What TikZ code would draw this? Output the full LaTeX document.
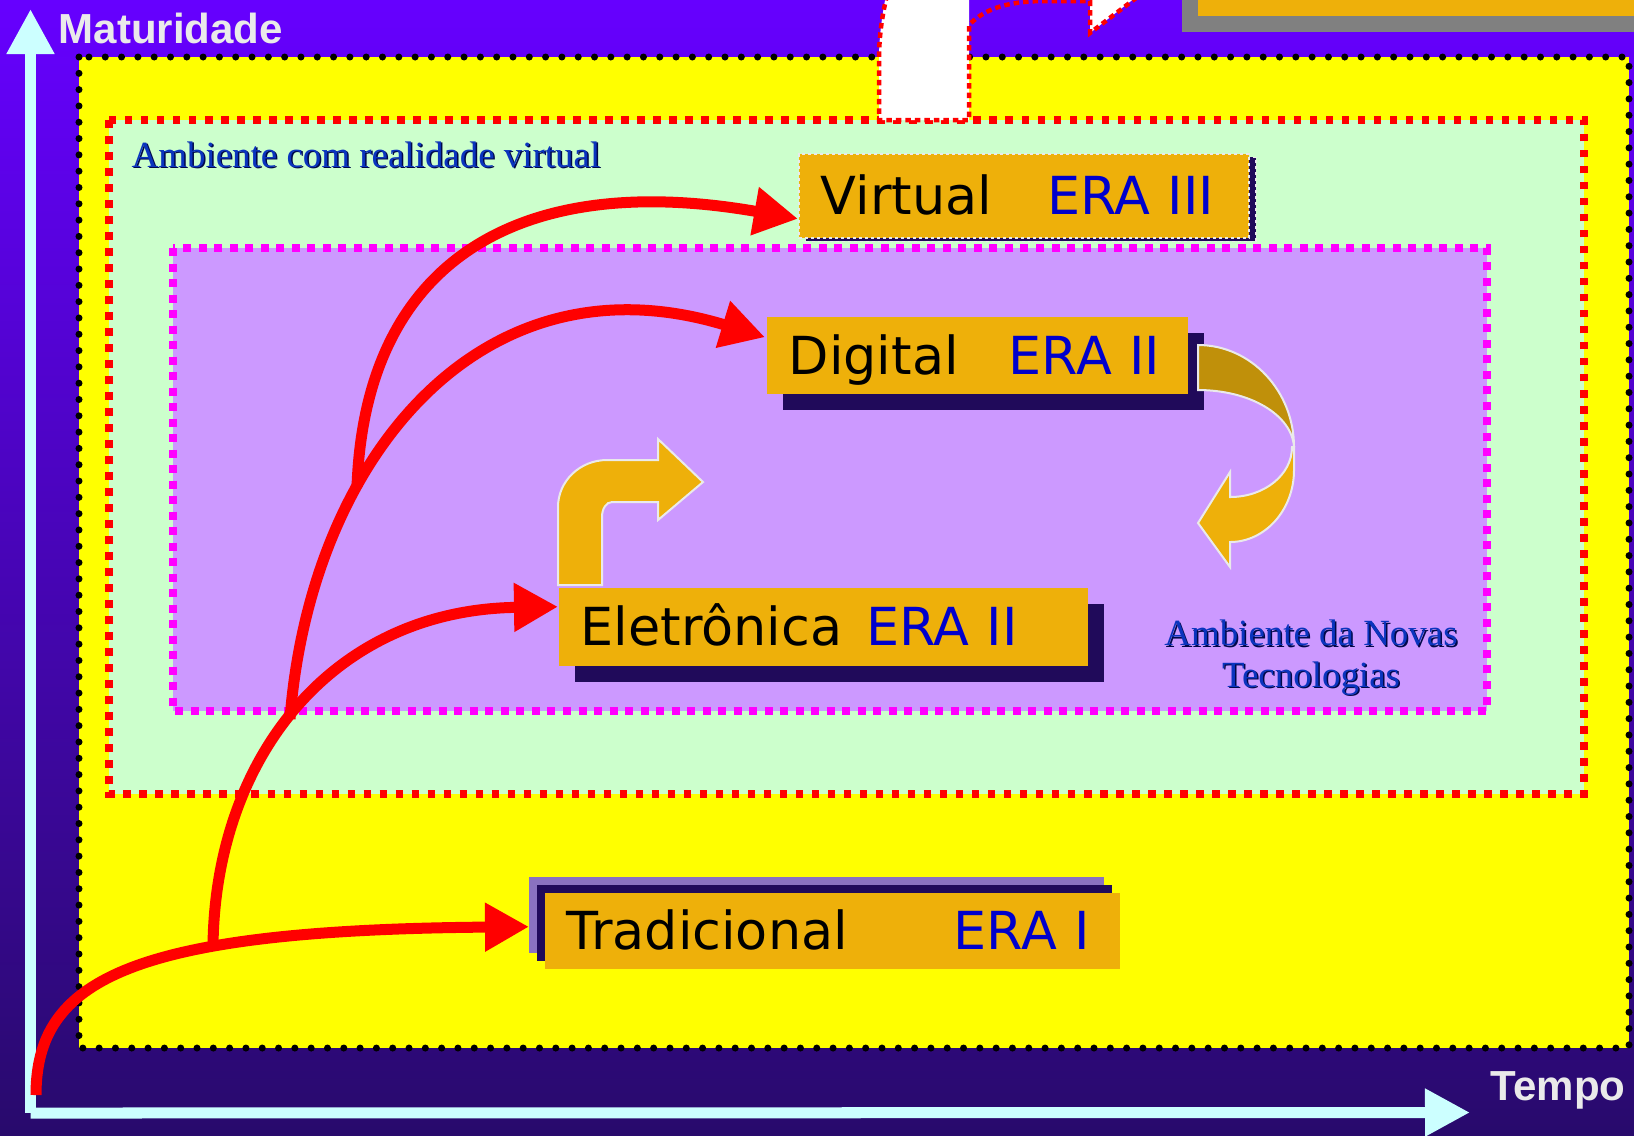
\documentclass[tikz,border=0pt]{standalone}
\usepackage{fontspec}
\setmainfont{Liberation Serif}
\newfontfamily\erafont{DejaVu Sans}
\newfontfamily\eixofont{Liberation Sans}
\usepackage{xcolor}
\usepackage{tikz}
\usetikzlibrary{arrows.meta,shadows,calc}

\definecolor{fundoalto}{HTML}{6600FF}
\definecolor{fundobaixo}{HTML}{280A6C}
\definecolor{amarelo}{HTML}{FFFF00}
\definecolor{verdeclaro}{HTML}{CCFFCC}
\definecolor{lilas}{HTML}{CC99FF}
\definecolor{ouro}{HTML}{EEB00A}
\definecolor{ouroescuro}{HTML}{C0900A}
\definecolor{sombra}{HTML}{200A5A}
\definecolor{sombraclara}{HTML}{8A72C0}
\definecolor{azulera}{HTML}{0000CC}
\definecolor{azultexto}{HTML}{0A34BE}
\definecolor{azulsombra}{HTML}{00084A}
\definecolor{ciano}{HTML}{CCFFFF}
\definecolor{cinzaclaro}{HTML}{EAEAEA}
\definecolor{rosa}{HTML}{FF00FF}

\newcommand{\txtsombra}[1]{\rlap{\hspace{0.015cm}\raisebox{-0.015cm}{\color{azulsombra}#1}}#1}

\begin{document}
\begin{tikzpicture}[x=0.01cm,y=-0.01cm,
	erabox/.style={fill=ouro,anchor=north west,inner xsep=0.22cm,inner ysep=0pt,
		text height=0.38cm,text depth=0pt,align=left,font=\erafont\fontsize{14.9}{18}\selectfont},
	seta/.style={draw=red,line width=0.11cm,-{Triangle[length=0.44cm,width=0.46cm]}},
	eixo/.style={draw=ciano,line width=0.11cm,-{Triangle[length=0.45cm,width=0.45cm]}},
	rotulo/.style={text=cinzaclaro,font=\eixofont\bfseries\fontsize{11.95}{14}\selectfont,inner sep=0pt,anchor=base west},
	ambiente/.style={text=azultexto,font=\fontsize{10.5}{11.7}\selectfont,inner sep=0pt},
	curva/.style={draw=cinzaclaro,line width=0.02cm}]
	\useasboundingbox (0,0) rectangle (1634,1135);
	\shade[top color=fundoalto,bottom color=fundobaixo] (0,0) rectangle (1634,1135);
	
	% canto superior direito
	\fill[gray] (1182,-10) rectangle (1650,32);
	\fill[ouro] (1198,-10) rectangle (1650,16);
	
	% ambientes
	\filldraw[fill=amarelo,draw=black,line width=0.07cm,line cap=round,dash pattern=on 0pt off 0.163cm] (79,57) rectangle (1629,1048);
	\filldraw[fill=verdeclaro,draw=red,line width=0.075cm,dash pattern=on 0.075cm off 0.085cm] (109,120) rectangle (1584,794);
	\fill[white] (887,-10) .. controls (881,20) and (879,40) .. (879,60) -- (879,120) -- (969,120) -- (969,-10) -- cycle;
	\fill[white] (1090,-10) -- (1090,33) -- (1145,-10) -- cycle;
	\draw[red,line width=0.045cm,dash pattern=on 0.055cm off 0.04cm] (887,-5) .. controls (881,20) and (879,40) .. (879,60) -- (879,120) -- (969,120) -- (969,25) .. controls (985,8) and (1010,1) .. (1045,1) -- (1090,1) -- (1090,33) -- (1140,-5);
	\filldraw[fill=lilas,draw=rosa,line width=0.08cm,dash pattern=on 0.08cm off 0.075cm] (173,248) rectangle (1487,711);
	
	\node[ambiente,anchor=base west] (amb1) at (131,167) {\txtsombra{Ambiente com realidade virtual}};
	\node[ambiente,align=center,anchor=base] (amb2) at (1311,687) {\txtsombra{Ambiente da Novas}\\\txtsombra{Tecnologias}};
	
	% eixos
	\coordinate (zero) at (30.5,1113);
	\draw[eixo] (zero) -- (30.5,9);
	\draw[eixo] (zero) -- (1470,1112.5);
	\node[rotulo] (mat) at (58,43) {Maturidade};
	\node[rotulo] (tempo) at (1490,1100) {Tempo};
	
	% seta curva da eletronica
	\filldraw[curva,fill=ouro] (558,585) -- (558,507) .. controls (558,481) and (580,460) .. (607,460) -- (658,460) -- (658,439) -- (703,482) -- (658,520) -- (658,502) -- (612,502) .. controls (606,502) and (602,509) .. (602,517) -- (602,585) -- cycle;
	
	% eras
	\node[erabox,minimum height=0.84cm,text width=4.06cm,draw=cinzaclaro,line width=0.015cm,dash pattern=on 0.03cm off 0.03cm,
		general shadow={fill=sombra,draw=cinzaclaro,line width=0.015cm,dash pattern=on 0.03cm off 0.03cm,shadow xshift=0.07cm,shadow yshift=-0.035cm}]
		(virt) at (798,153) {Virtual\hspace{0.55cm}\textcolor{azulera}{ERA III}};
	\node[erabox,minimum height=0.77cm,text width=3.77cm,general shadow={fill=sombra,shadow xshift=0.16cm,shadow yshift=-0.16cm}]
		(digi) at (766,316) {Digital\hspace{0.5cm}\textcolor{azulera}{ERA II}};
	\node[erabox,minimum height=0.78cm,text width=4.85cm,general shadow={fill=sombra,shadow xshift=0.16cm,shadow yshift=-0.16cm}]
		(elet) at (558,587) {Eletrônica\hspace{0.24cm}\textcolor{azulera}{ERA II}};
	\node[erabox,minimum height=0.76cm,text width=5.31cm,general shadow={fill=sombraclara,shadow xshift=-0.16cm,shadow yshift=0.16cm},
		general shadow={fill=sombra,shadow xshift=-0.08cm,shadow yshift=0.08cm}]
		(trad) at (544,892) {Tradicional\hspace{1.06cm}\textcolor{azulera}{ERA I}};
	
	% seta curva do digital
	\filldraw[curva,fill=ouroescuro] (1198,345) .. controls (1251,345) and (1294,391) .. (1294,447) .. controls (1292,415) and (1250,390) .. (1198,390) -- cycle;
	\filldraw[curva,fill=ouro] (1294,447) -- (1294,470) .. controls (1294,510) and (1265,542) .. (1230,542) -- (1230,567) -- (1198,523) -- (1230,472) -- (1230,497) .. controls (1264,497) and (1292,475) .. (1292,447) -- cycle;
	
	% setas vermelhas
	\coordinate (origem) at (36,1095);
	\coordinate (ramoA) at (213,946);
	\coordinate (ramoB) at (290,719);
	\coordinate (ramoC) at (357,487);
	\draw[seta] (origem) .. controls (36,980) and (130,930) .. ($(trad.west)+(-15,-4)$);
	\draw[seta] (ramoA) .. controls (215,760) and (330,610) .. ($(elet.west)+(0,-20)$);
	\draw[seta] (ramoB) .. controls (310,460) and (480,250) .. ($(digi.west)+(-1,-18)$);
	\draw[seta] (ramoC) .. controls (365,260) and (520,170) .. ($(virt.west)+(0,23)$);
\end{tikzpicture}
\end{document}
